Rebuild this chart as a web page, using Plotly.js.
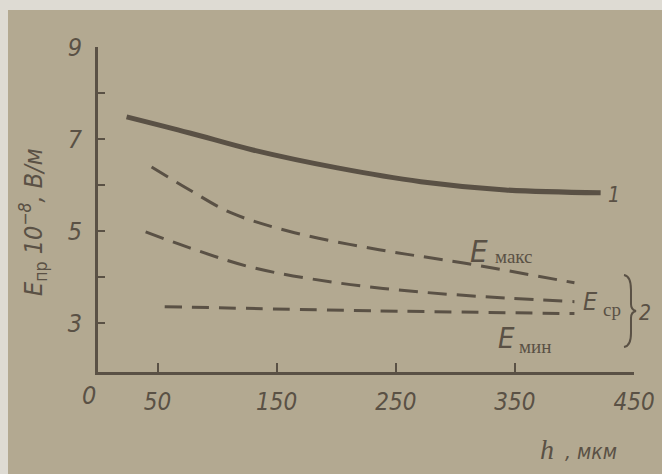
<!DOCTYPE html>
<html><head><meta charset="utf-8">
<script src="https://cdn.plot.ly/plotly-3.0.1.min.js"></script>
<style>
html,body{margin:0;padding:0;background:#dedbd3;width:662px;height:474px;overflow:hidden}
#chart{position:absolute;left:8px;top:10px;width:654px;height:464px}
</style></head><body><div id="chart"></div>
<script>
// Curve 1 (solid)
const curve1_h = [24, 77, 130, 201, 271, 342, 422];
const curve1_E = [7.48, 7.13, 6.76, 6.37, 6.07, 5.89, 5.83];
// Curve 2 group (dashed)
const emax_h = [45, 77, 112, 165, 236, 307, 400];
const emax_E = [6.39, 5.89, 5.39, 4.96, 4.59, 4.30, 3.87];
const esr_h = [40, 77, 130, 201, 271, 342, 400];
const esr_E = [4.98, 4.63, 4.20, 3.87, 3.67, 3.54, 3.46];
const emin_h = [56, 236, 400];
const emin_E = [3.35, 3.26, 3.20];
// ticks
const xTickVals = [50, 150, 250, 350, 450];
const xTickText = ['50', '150', '250', '350', '450'];
const yTickVals = [3, 5, 7, 9];
const yTickText = ['3', '5', '7', '9'];
const yMinorVals = [4, 6, 8];

const ink = '#5a5145';
const bg = '#b3a991';
const sansIt = {family: 'Liberation Sans Narrow, DejaVu Sans Condensed, Liberation Sans, sans-serif', style: 'italic', color: ink};
const serif = 'Liberation Serif, DejaVu Serif, serif';

// page pixel -> paper coords (plot area: x 98..634, y 47..372 on the page)
const PX = x => (x - 98) / 536;
const PY = y => (372 - y) / 325;

const traces = [
  {x: curve1_h, y: curve1_E, mode: 'lines', line: {color: ink, width: 5, shape: 'spline'}},
  {x: emax_h, y: emax_E, mode: 'lines', line: {color: ink, width: 3, dash: '19px,10px', shape: 'spline'}},
  {x: esr_h, y: esr_E, mode: 'lines', line: {color: ink, width: 3, dash: '19px,10px', shape: 'spline'}},
  {x: emin_h, y: emin_E, mode: 'lines', line: {color: ink, width: 3, dash: '17px,10px', shape: 'spline'}}
];

function ann(text, x, y, font, extra) {
  return Object.assign({text: text, xref: 'paper', yref: 'paper', x: PX(x), y: PY(y),
    xanchor: 'center', yanchor: 'middle', showarrow: false, font: font}, extra || {});
}

const annotations = [
  ann('0', 89, 395, Object.assign({}, sansIt, {size: 25})),
  ann('<i>E</i><sub style="font-style:normal">пр</sub> <i>10<sup>−8</sup>, В/м</i>', 33, 222,
      {family: sansIt.family, size: 25, color: ink}, {textangle: -90}),
  ann('<i>h</i>', 547, 449, {family: 'Liberation Serif, serif', size: 28, color: ink}),
  ann(', мкм', 591, 452, Object.assign({}, sansIt, {size: 21})),
  ann('1', 614, 195, Object.assign({}, sansIt, {size: 21})),
  ann('E', 479, 251, Object.assign({}, sansIt, {size: 31})),
  ann('макс', 514, 256, {family: serif, size: 19, color: ink}),
  ann('E', 590, 301, Object.assign({}, sansIt, {size: 25})),
  ann('ср', 612, 309, {family: serif, size: 19, color: ink}),
  ann('2', 645, 313, Object.assign({}, sansIt, {size: 21})),
  ann('E', 506, 338, Object.assign({}, sansIt, {size: 29})),
  ann('мин', 535, 346, {family: serif, size: 19, color: ink})
];

// brace path in paper coords
function P(x, y) { return PX(x).toFixed(4) + ',' + PY(y).toFixed(4); }
const bracePath = 'M' + P(624, 275) + ' Q' + P(631, 276) + ' ' + P(631, 290) +
  ' L' + P(631, 304) + ' Q' + P(631, 310) + ' ' + P(636, 311) +
  ' Q' + P(631, 312) + ' ' + P(631, 318) + ' L' + P(631, 333) +
  ' Q' + P(631, 346) + ' ' + P(624, 347);

const layout = {
  width: 654, height: 464,
  margin: {l: 90, r: 28, t: 37, b: 102},
  paper_bgcolor: bg, plot_bgcolor: bg,
  showlegend: false,
  xaxis: {
    range: [0, 450], showgrid: false, zeroline: false,
    showline: true, linecolor: ink, linewidth: 3,
    ticks: 'inside', ticklen: 9, tickwidth: 2, tickcolor: ink,
    tickmode: 'array', tickvals: xTickVals, ticktext: xTickText,
    tickfont: Object.assign({}, sansIt, {size: 24}), ticklabelstandoff: 6
  },
  yaxis: {
    range: [1.93, 9], showgrid: false, zeroline: false,
    showline: true, linecolor: ink, linewidth: 3,
    ticks: 'inside', ticklen: 7, tickwidth: 2, tickcolor: ink,
    tickmode: 'array', tickvals: yTickVals, ticktext: yTickText,
    minor: {tickmode: 'array', tickvals: yMinorVals, ticks: 'inside', ticklen: 7, tickwidth: 2, tickcolor: ink, showgrid: false},
    tickfont: Object.assign({}, sansIt, {size: 25}), ticklabelstandoff: 8
  },
  annotations: annotations,
  shapes: [{type: 'path', xref: 'paper', yref: 'paper', path: bracePath,
    line: {color: ink, width: 2}}]
};

Plotly.newPlot('chart', traces, layout, {staticPlot: true, displayModeBar: false});
</script></body></html>
